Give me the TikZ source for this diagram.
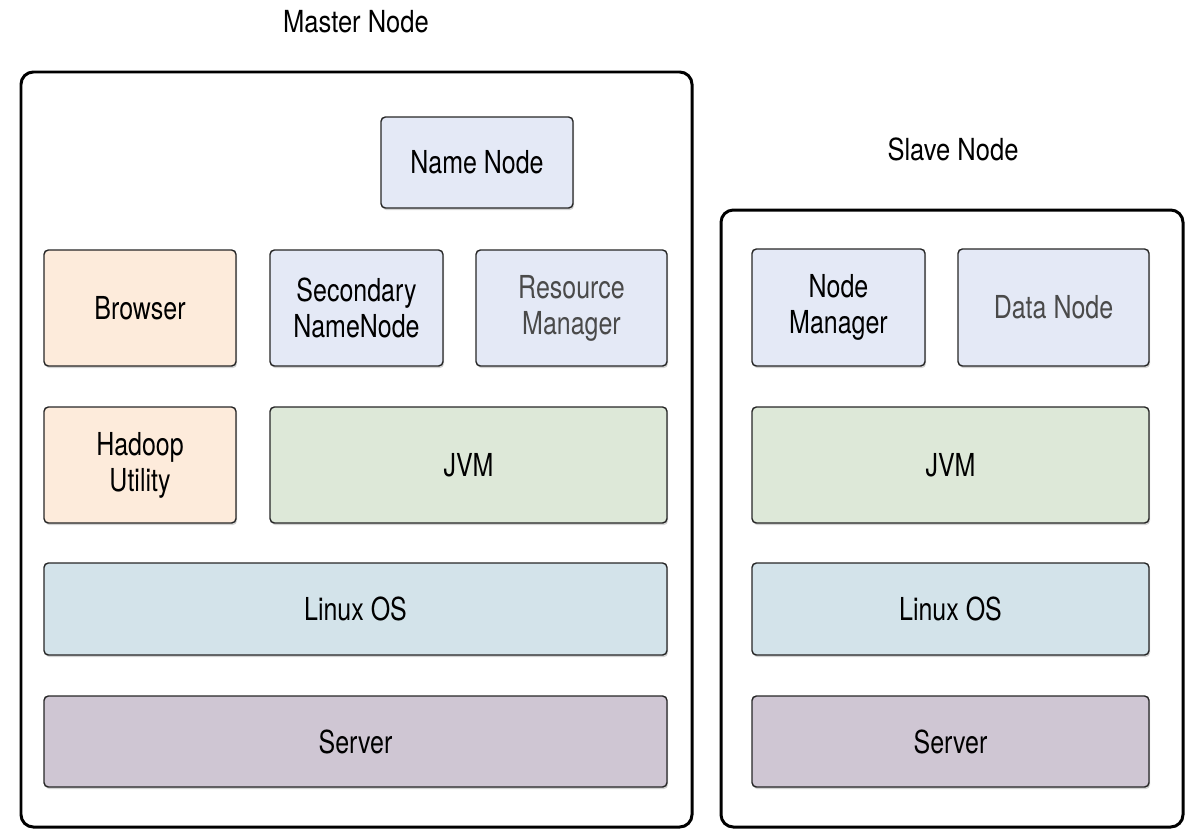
\documentclass[tikz,border=0pt]{standalone}
\usepackage{fontspec}
\setmainfont[FakeStretch=0.84]{TeX Gyre Heros}
\newfontfamily\blockfont[FakeStretch=0.79]{TeX Gyre Heros}
\usetikzlibrary{shadows}

\definecolor{peach}{HTML}{FDEBDB}
\definecolor{lavender}{HTML}{E4E9F6}
\definecolor{jvmgreen}{HTML}{DDE8D8}
\definecolor{osblue}{HTML}{D3E3EA}
\definecolor{servermauve}{HTML}{CFC6D3}
\definecolor{greytext}{HTML}{4A4A4A}

\tikzset{
  frame/.style={draw=black, line width=1.7pt, rounded corners=7pt},
  block/.style={draw=black!85, line width=0.8pt, rounded corners=2.5pt, align=center,
    font=\blockfont\fontsize{18}{20.5}\selectfont,
    drop shadow={opacity=0.35, shadow xshift=0.6pt, shadow yshift=-1.2pt}},
  title/.style={font=\fontsize{17.3}{20}\selectfont}
}

\begin{document}
\begin{tikzpicture}[x=0.02cm, y=-0.02cm]
  \useasboundingbox (0,0) rectangle (1186,829);

  % frames
  \draw[frame] (21,72) rectangle (692,827);
  \draw[frame] (721,210) rectangle (1183,827);
  \node[title] (mastertitle) at (356,22) {Master Node};
  \node[title] (slavetitle) at (953,149) {Slave Node};

  % master node
  \node[block, fill=lavender, minimum width=192*0.02cm, minimum height=91*0.02cm] (namenode) at (477,162.5) {Name Node};
  \node[block, fill=peach, minimum width=192*0.02cm, minimum height=116*0.02cm] (browser) at (140,308) {Browser};
  \node[block, fill=lavender, minimum width=173*0.02cm, minimum height=116*0.02cm] (secondary) at (356.5,308) {Secondary\\NameNode};
  \node[block, fill=lavender, text=greytext, minimum width=191*0.02cm, minimum height=116*0.02cm] (resmanager) at (571.5,308) {Resource\\Manager};
  \node[block, fill=peach, minimum width=192*0.02cm, minimum height=116*0.02cm] (utility) at (140,465) {Hadoop\\Utility};
  \node[block, fill=jvmgreen, minimum width=397*0.02cm, minimum height=116*0.02cm] (masterjvm) at (468.5,465) {JVM};
  \node[block, fill=osblue, minimum width=623*0.02cm, minimum height=92*0.02cm] (masteros) at (355.5,609) {Linux OS};
  \node[block, fill=servermauve, minimum width=623*0.02cm, minimum height=91*0.02cm] (masterserver) at (355.5,741.5) {Server};

  % slave node
  \node[block, fill=lavender, minimum width=173*0.02cm, minimum height=117*0.02cm] (nodemanager) at (838.5,307.5) {Node\\Manager};
  \node[block, fill=lavender, text=greytext, minimum width=191*0.02cm, minimum height=117*0.02cm] (datanode) at (1053.5,307.5) {Data Node};
  \node[block, fill=jvmgreen, minimum width=397*0.02cm, minimum height=116*0.02cm] (slavejvm) at (950.5,465) {JVM};
  \node[block, fill=osblue, minimum width=397*0.02cm, minimum height=92*0.02cm] (slaveos) at (950.5,609) {Linux OS};
  \node[block, fill=servermauve, minimum width=397*0.02cm, minimum height=91*0.02cm] (slaveserver) at (950.5,741.5) {Server};
\end{tikzpicture}
\end{document}
